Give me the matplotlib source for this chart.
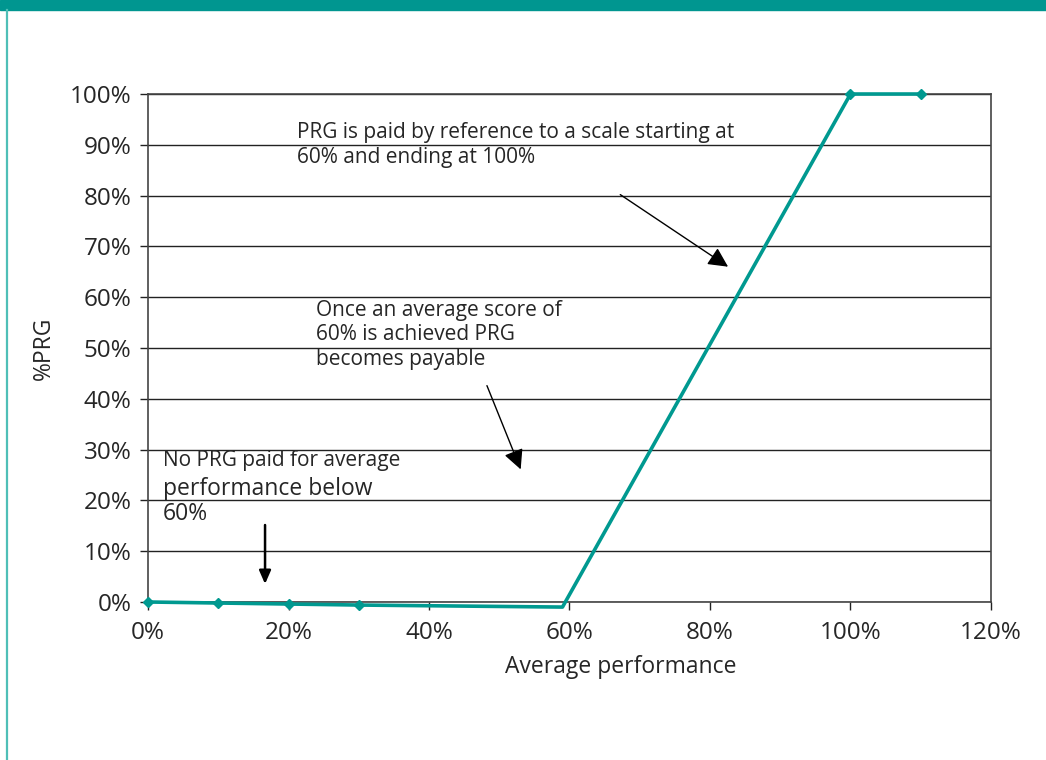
import numpy as np
import matplotlib
matplotlib.use('Agg')
import matplotlib.pyplot as plt
from matplotlib.ticker import FuncFormatter, MultipleLocator

plt.rcParams['font.family'] = ['Open Sans', 'DejaVu Sans']

# average performance vs % PRG paid
perf = [0.0, 0.1, 0.2, 0.3, 0.59, 1.0, 1.1]
prg = [0.0, -0.002, -0.004, -0.006, -0.01, 1.0, 1.0]
marked = [0, 1, 2, 3, 5, 6]

teal = '#009990'
ink = '#262626'

fig = plt.figure(figsize=(10.46, 7.6), dpi=100)
ax = fig.add_axes([0.1415, 0.2079, 0.8059, 0.6684])

# page decoration: header band and left rule
fig.patches.append(plt.Rectangle((0, 0.987), 1, 0.013, transform=fig.transFigure,
                                 color='#009690', zorder=0))
fig.lines.append(plt.Line2D([0.0065, 0.0065], [0, 0.987], transform=fig.transFigure,
                            color='#4fbfb7', lw=1.6))

ax.plot(perf, prg, color=teal, lw=2.6, marker='D', ms=5.5, markevery=marked,
        clip_on=False, zorder=5)

ax.set_xlim(0, 1.2)
ax.set_ylim(0, 1.0)
ax.xaxis.set_major_locator(MultipleLocator(0.2))
ax.yaxis.set_major_locator(MultipleLocator(0.1))
pct = FuncFormatter(lambda v, p: '%d%%' % round(v * 100))
ax.xaxis.set_major_formatter(pct)
ax.yaxis.set_major_formatter(pct)
ax.grid(axis='y', color='#222222', lw=1.0)
for s in ax.spines.values():
    s.set_color('#444444')
    s.set_linewidth(1.2)
ax.tick_params(labelsize=17.5, length=6, width=1, color='#222222', labelcolor=ink)
ax.tick_params(axis='x', pad=8)
ax.tick_params(axis='y', pad=6)
ax.set_xlabel('Average performance', fontsize=16.5, color=ink, labelpad=7)
ax.xaxis.label.set_x(0.561)
ax.set_ylabel('%PRG', fontsize=16.5, color=ink, labelpad=10)

ax.text(0.212, 0.945, 'PRG is paid by reference to a scale starting at\n60% and ending at 100%',
        fontsize=15, va='top', ha='left', color=ink, linespacing=1.25)
ax.text(0.239, 0.594, 'Once an average score of\n60% is achieved PRG\nbecomes payable',
        fontsize=15, va='top', ha='left', color=ink, linespacing=1.2)
ax.text(0.021, 0.299, 'No PRG paid for average', fontsize=15, va='top', ha='left',
        color=ink)
ax.text(0.021, 0.246, 'performance below\n60%', fontsize=16.5, va='top', ha='left',
        color=ink, linespacing=1.05)

ax.annotate('', xy=(0.829, 0.657), xytext=(0.669, 0.805),
            arrowprops=dict(arrowstyle='-|>,head_length=1.2,head_width=0.6', color='black', lw=1))
ax.annotate('', xy=(0.532, 0.256), xytext=(0.481, 0.431),
            arrowprops=dict(arrowstyle='-|>,head_length=1.2,head_width=0.6', color='black', lw=1))
ax.annotate('', xy=(0.1666, 0.030), xytext=(0.1666, 0.157),
            arrowprops=dict(arrowstyle='-|>,head_length=0.8,head_width=0.35', color='black', lw=1.8))

fig.savefig('out.png', dpi=100)
